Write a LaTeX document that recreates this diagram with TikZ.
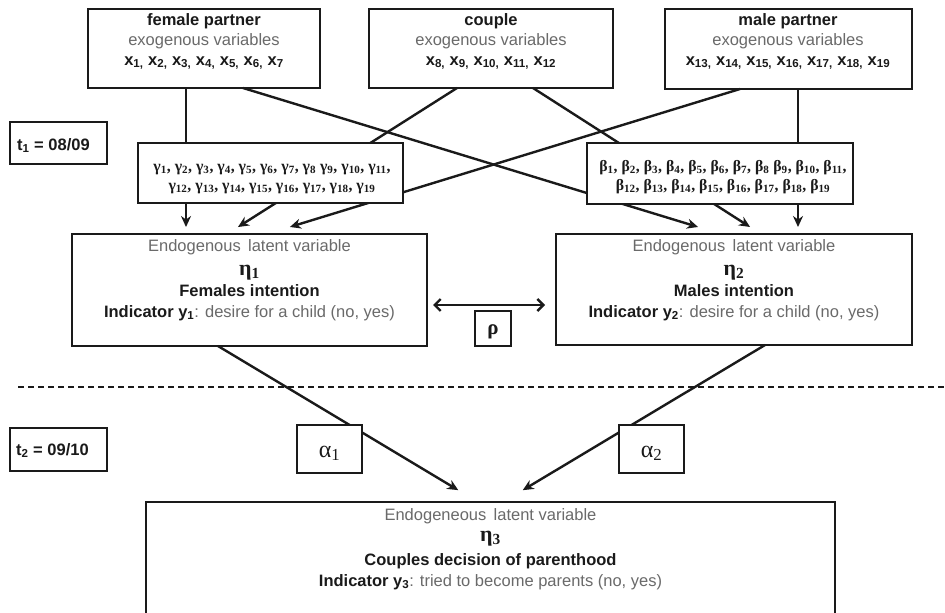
\documentclass[tikz,border=0pt]{standalone}
\usepackage{fontspec}
\setmainfont{Liberation Sans}
\newfontfamily\grk{Liberation Serif}
\usetikzlibrary{arrows.meta}
\definecolor{ink}{HTML}{1A1A1A}
\definecolor{soft}{HTML}{6A6A6A}
\newcommand\sbx[1]{\textsubscript{#1}}
\newcommand\bx[6][]{\node[box,#1,minimum width={(#5-#3)*1pt},minimum height={(#6-#4)*1pt}] (#2) at ({(#3+#5)/2},{(#4+#6)/2}) {};}
\begin{document}
\begin{tikzpicture}[x=1pt,y=-1pt,
  box/.style={draw=ink,line width=2.6pt,fill=white,inner sep=0pt,outer sep=0pt},
  txt/.style={inner sep=0pt,anchor=base,text=ink,font=\fontsize{16.5}{20}\selectfont},
  gtxt/.style={inner sep=0pt,anchor=base,text=ink,font=\grk\bfseries\fontsize{15.8}{18}\selectfont},
  etxt/.style={inner sep=0pt,anchor=base,text=ink,font=\grk\bfseries\fontsize{22}{24}\selectfont},
  arr/.style={draw=ink,line width=2.4pt,-{Stealth[length=11pt,width=10pt]}},
  dbl/.style={draw=ink,line width=2.4pt,{Straight Barb[length=6pt,width=12pt]}-{Straight Barb[length=6pt,width=12pt]}}
]
\useasboundingbox (0,0) rectangle (945,613);
% main boxes
\bx{fem}{88}{9}{320}{88}
\bx{cpl}{369}{9}{613}{88}
\bx{mal}{665}{9}{912}{89}
\bx{eta1}{72}{234}{427}{346}
\bx{eta2}{556}{234}{912}{345}
\bx{eta3}{146}{502}{835}{625}
% connectors
\draw[arr,shorten >=7pt] (fem.south -| 186,0) -- (eta1.north -| 186,0);
\draw[arr,shorten >=13pt] (cpl.south -| 457,0) -- (eta1.north -| 227,0);
\draw[arr,shorten >=24pt] (mal.south -| 740,0) -- (eta1.north -| 267,0);
\draw[arr,shorten >=24pt] (fem.south -| 243,0) -- (eta2.north -| 721,0);
\draw[arr,shorten >=13pt] (cpl.south -| 533,0) -- (eta2.north -| 761,0);
\draw[arr,shorten >=7pt] (mal.south -| 798,0) -- (eta2.north -| 798,0);
\draw[arr,shorten >=23pt] (eta1.south -| 218,0) -- (eta3.north -| 478,0);
\draw[arr,shorten >=23pt] (eta2.south -| 765,0) -- (eta3.north -| 503,0);
\draw[dbl,shorten <=6pt,shorten >=11pt] (eta1.east |- 0,305) -- (eta2.west |- 0,305);
% dashed separator
\draw[ink,line width=2pt,dash pattern=on 6pt off 4pt] (18,387) -- (945,387);
% boxes drawn over the lines
\bx{gam}{138}{143}{403}{203}
\bx{bet}{587}{143}{853}{204}
\bx{a1}{297}{425}{362}{473}
\bx{a2}{619}{425}{684}{473}
\bx{rho}{475}{311}{511}{346}
\bx{t1}{10}{122}{107}{164}
\bx{t2}{10}{428}{107}{471}
% top box texts
\node[txt] (fem1) at (204,25) {\bfseries female partner};
\node[txt,text=soft] (fem2) at (204,45) {exogenous variables};
\node[txt] (fem3) at (204,65) {\bfseries x\sbx{1,} x\sbx{2,} x\sbx{3,} x\sbx{4,} x\sbx{5,} x\sbx{6,} x\sbx{7}};
\node[txt] (cpl1) at (491,25) {\bfseries couple};
\node[txt,text=soft] (cpl2) at (491,45) {exogenous variables};
\node[txt] (cpl3) at (491,65) {\bfseries x\sbx{8,} x\sbx{9,} x\sbx{10,} x\sbx{11,} x\sbx{12}};
\node[txt] (mal1) at (788,25) {\bfseries male partner};
\node[txt,text=soft] (mal2) at (788,45) {exogenous variables};
\node[txt] (mal3) at (788,65) {\bfseries x\sbx{13,} x\sbx{14,} x\sbx{15,} x\sbx{16,} x\sbx{17,} x\sbx{18,} x\sbx{19}};
% time labels
\node[txt,anchor=base west] (t1l) at (17,150) {\bfseries t\sbx{1} = 08/09};
\node[txt,anchor=base west] (t2l) at (16,455) {\bfseries t\sbx{2} = 09/10};
% coefficient boxes
\node[gtxt] (gam1) at (272,171) {γ\sbx{1}, γ\sbx{2}, γ\sbx{3}, γ\sbx{4}, γ\sbx{5}, γ\sbx{6}, γ\sbx{7}, γ\sbx{8} γ\sbx{9}, γ\sbx{10}, γ\sbx{11},};
\node[gtxt] (gam2) at (272,190) {γ\sbx{12}, γ\sbx{13}, γ\sbx{14}, γ\sbx{15}, γ\sbx{16}, γ\sbx{17}, γ\sbx{18}, γ\sbx{19}};
\node[gtxt] (bet1) at (723,171) {β\sbx{1}, β\sbx{2}, β\sbx{3}, β\sbx{4}, β\sbx{5}, β\sbx{6}, β\sbx{7}, β\sbx{8} β\sbx{9}, β\sbx{10}, β\sbx{11},};
\node[gtxt] (bet2) at (723,190) {β\sbx{12}, β\sbx{13}, β\sbx{14}, β\sbx{15}, β\sbx{16}, β\sbx{17}, β\sbx{18}, β\sbx{19}};
% eta1
\node[txt,text=soft] (e11) at (249.5,251) {Endogenous\, latent variable};
\node[etxt] (e12) at (249.5,275) {η\sbx{1}};
\node[txt] (e13) at (249.5,296) {\bfseries Females intention};
\node[txt] (e14) at (249.5,317) {\textbf{Indicator y\sbx{1}}\textcolor{soft}{: desire for a child (no, yes)}};
% eta2
\node[txt,text=soft] (e21) at (734,251) {Endogenous\, latent variable};
\node[etxt] (e22) at (734,275) {η\sbx{2}};
\node[txt] (e23) at (734,296) {\bfseries Males intention};
\node[txt] (e24) at (734,317) {\textbf{Indicator y\sbx{2}}\textcolor{soft}{: desire for a child (no, yes)}};
% eta3
\node[txt,text=soft] (e31) at (490.5,520) {Endogeneous\, latent variable};
\node[etxt] (e32) at (490.5,541) {η\sbx{3}};
\node[txt] (e33) at (490.5,565) {\bfseries Couples decision of parenthood};
\node[txt] (e34) at (490.5,586) {\textbf{Indicator y\sbx{3}}\textcolor{soft}{: tried to become parents (no, yes)}};
% small coefficient labels
\node[inner sep=0pt,anchor=base,text=ink,font=\grk\bfseries\fontsize{21}{24}\selectfont] (rhol) at (493,334) {ρ};
\node[inner sep=0pt,anchor=base,text=ink,font=\grk\fontsize{24}{26}\selectfont] (a1l) at (329.5,457) {α\sbx{1}};
\node[inner sep=0pt,anchor=base,text=ink,font=\grk\fontsize{24}{26}\selectfont] (a2l) at (651.5,457) {α\sbx{2}};
\end{tikzpicture}
\end{document}
